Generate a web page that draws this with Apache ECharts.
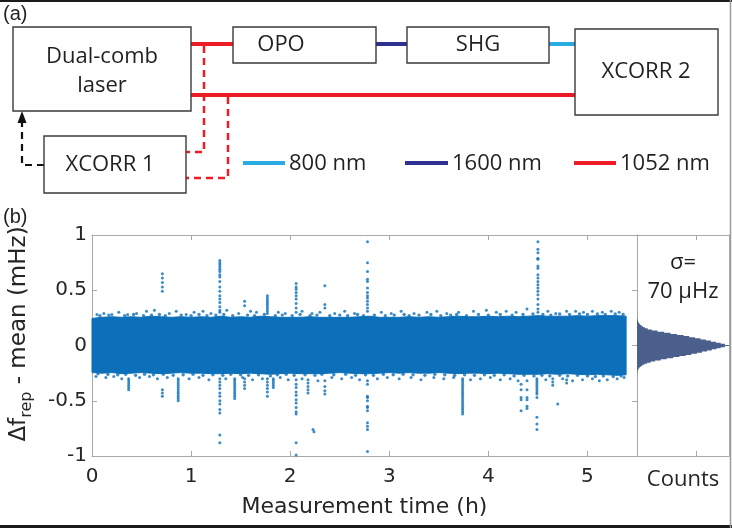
<!DOCTYPE html>
<html><head><meta charset="utf-8">
<script src="https://cdn.jsdelivr.net/npm/echarts@6/dist/echarts.min.js"></script>
<style>html,body{margin:0;padding:0;background:#fff}#c{width:732px;height:528px}</style>
</head><body><div id="c"></div>
<script>
// ---------- data ----------
const xTickLabels = ['0','1','2','3','4','5'];
const yTickLabels = ['-1','-0.5','0','0.5','1'];
// dense band envelope (mHz) vs measurement time (h)
const bandTime = [0,0.1,0.2,0.3,0.4,0.5,0.6,0.7,0.8,0.9,1.0,1.1,1.2,1.3,1.4,1.5,1.6,1.7,1.8,1.9,2.0,2.1,2.2,2.3,2.4,2.5,2.6,2.7,2.8,2.9,3.0,3.1,3.2,3.3,3.4,3.5,3.6,3.7,3.8,3.9,4.0,4.1,4.2,4.3,4.4,4.5,4.6,4.7,4.8,4.9,5.0,5.1,5.2,5.3,5.39];
const bandUpper = [0.245,0.255,0.26,0.255,0.26,0.255,0.265,0.26,0.255,0.26,0.255,0.26,0.255,0.265,0.255,0.26,0.255,0.265,0.26,0.255,0.255,0.255,0.26,0.255,0.255,0.255,0.255,0.26,0.265,0.255,0.255,0.255,0.26,0.255,0.26,0.255,0.26,0.265,0.26,0.26,0.265,0.26,0.265,0.26,0.265,0.27,0.265,0.265,0.265,0.27,0.265,0.27,0.27,0.27,0.265];
const bandLower = [-0.245,-0.25,-0.245,-0.255,-0.25,-0.245,-0.25,-0.255,-0.25,-0.245,-0.25,-0.25,-0.255,-0.255,-0.25,-0.255,-0.25,-0.255,-0.26,-0.255,-0.25,-0.255,-0.255,-0.255,-0.25,-0.245,-0.25,-0.255,-0.255,-0.25,-0.245,-0.25,-0.245,-0.25,-0.25,-0.245,-0.25,-0.255,-0.25,-0.25,-0.255,-0.25,-0.255,-0.26,-0.26,-0.26,-0.255,-0.26,-0.255,-0.26,-0.265,-0.26,-0.265,-0.27,-0.265];
// points hugging the band edges
const edgePoints = [[0.08,0.27],[0.17,0.275],[0.33,0.27],[0.42,0.28],[0.52,0.27],[0.6,0.275],[0.68,0.28],[0.74,0.27],[0.9,0.275],[1.0,0.27],[1.08,0.28],[1.16,0.27],[1.25,0.275],[1.33,0.28],[1.42,0.27],[1.57,0.275],[1.64,0.27],[1.74,0.28],[1.85,0.27],[1.92,0.275],[2.02,0.27],[2.1,0.28],[2.2,0.27],[2.27,0.275],[2.4,0.27],[2.5,0.275],[2.58,0.27],[2.68,0.28],[2.74,0.27],[2.85,0.275],[2.96,0.27],[3.05,0.275],[3.15,0.28],[3.2,0.27],[3.3,0.275],[3.42,0.28],[3.52,0.27],[3.62,0.275],[3.68,0.28],[3.78,0.27],[3.9,0.28],[4.0,0.275],[4.12,0.28],[4.24,0.275],[4.35,0.28],[4.45,0.285],[4.55,0.28],[4.63,0.275],[4.72,0.285],[4.82,0.28],[4.92,0.285],[5.0,0.28],[5.1,0.285],[5.18,0.28],[5.28,0.285],[5.36,0.28],
[0.06,-0.255],[0.16,-0.26],[0.26,-0.265],[0.34,-0.26],[0.44,-0.27],[0.53,-0.26],[0.62,-0.265],[0.72,-0.26],[0.82,-0.27],[0.92,-0.265],[1.02,-0.26],[1.12,-0.27],[1.22,-0.265],[1.32,-0.27],[1.4,-0.26],[1.5,-0.265],[1.58,-0.27],[1.68,-0.265],[1.8,-0.275],[1.87,-0.265],[1.96,-0.26],[2.04,-0.27],[2.15,-0.265],[2.25,-0.27],[2.32,-0.26],[2.44,-0.265],[2.56,-0.26],[2.66,-0.27],[2.76,-0.265],[2.84,-0.27],[2.94,-0.26],[3.04,-0.265],[3.14,-0.26],[3.24,-0.265],[3.36,-0.27],[3.46,-0.26],[3.56,-0.265],[3.66,-0.27],[3.76,-0.265],[3.86,-0.27],[3.96,-0.265],[4.06,-0.27],[4.16,-0.265],[4.26,-0.275],[4.36,-0.27],[4.46,-0.275],[4.54,-0.27],[4.62,-0.275],[4.72,-0.27],[4.8,-0.275],[4.9,-0.27],[5.0,-0.275],[5.08,-0.28],[5.16,-0.275],[5.26,-0.28],[5.34,-0.275]];
// sparse points just outside the band
const fringePoints = [[0.05,0.28],[0.12,0.29],[0.2,0.28],[0.27,0.3],[0.36,0.28],[0.45,0.29],[0.55,0.31],[0.63,0.32],[0.78,0.29],[0.85,0.31],[0.95,0.28],[1.03,0.3],[1.12,0.31],[1.2,0.29],[1.36,0.32],[1.48,0.29],[1.6,0.31],[1.66,0.3],[1.88,0.3],[1.95,0.29],[2.12,0.31],[2.22,0.29],[2.3,0.3],[2.45,0.29],[2.55,0.31],[2.65,0.29],[2.92,0.3],[3.02,0.29],[3.12,0.31],[3.25,0.29],[3.38,0.3],[3.48,0.31],[3.58,0.29],[3.7,0.3],[3.85,0.31],[3.98,0.32],[4.08,0.3],[4.18,0.31],[4.28,0.3],[4.6,0.31],[4.68,0.29],[4.88,0.31],[4.96,0.3],[5.05,0.31],[5.15,0.3],[5.24,0.31],[5.32,0.3],
[0.04,-0.28],[0.14,-0.29],[0.22,-0.28],[0.3,-0.3],[0.48,-0.29],[0.58,-0.28],[0.66,-0.3],[0.76,-0.29],[0.98,-0.3],[1.08,-0.29],[1.18,-0.31],[1.35,-0.3],[1.52,-0.29],[1.62,-0.31],[1.72,-0.3],[1.9,-0.29],[1.98,-0.31],[2.12,-0.3],[2.28,-0.32],[2.42,-0.29],[2.52,-0.3],[2.62,-0.29],[2.7,-0.31],[2.88,-0.3],[2.98,-0.29],[3.1,-0.3],[3.22,-0.29],[3.32,-0.31],[3.45,-0.29],[3.55,-0.3],[3.65,-0.29],[3.82,-0.31],[3.92,-0.3],[4.02,-0.29],[4.12,-0.31],[4.22,-0.3],[4.3,-0.32],[4.58,-0.31],[4.75,-0.3],[4.85,-0.32],[4.95,-0.31],[5.05,-0.3],[5.12,-0.32],[5.2,-0.31],[5.3,-0.3],[5.37,-0.29]];
// outlier excursions
const outlierPoints = [
[0.37,-0.3],[0.37,-0.32],[0.37,-0.34],[0.37,-0.36],[0.37,-0.38],[0.37,-0.4],
[0.71,0.65],[0.71,0.61],[0.71,0.57],[0.71,0.53],[0.71,0.49],[0.71,-0.4],[0.71,-0.43],[0.71,-0.46],
[0.87,-0.3],[0.87,-0.32],[0.87,-0.34],[0.87,-0.36],[0.87,-0.38],[0.87,-0.4],[0.87,-0.42],[0.87,-0.44],[0.87,-0.46],[0.87,-0.48],[0.87,-0.5],
[1.29,0.77],[1.29,0.75],[1.29,0.73],[1.29,0.71],[1.29,0.69],[1.29,0.67],[1.29,0.64],[1.29,0.62],[1.29,0.58],[1.29,0.53],[1.29,0.49],[1.29,0.45],[1.29,0.42],[1.29,0.39],[1.29,0.35],[1.29,0.32],[1.29,0.3],
[1.29,-0.3],[1.29,-0.33],[1.29,-0.36],[1.29,-0.39],[1.29,-0.43],[1.29,-0.46],[1.29,-0.5],[1.29,-0.53],[1.29,-0.58],[1.29,-0.61],[1.29,-0.81],[1.29,-0.88],
[1.44,-0.3],[1.44,-0.32],[1.44,-0.34],[1.44,-0.36],[1.44,-0.38],[1.44,-0.4],[1.44,-0.42],[1.44,-0.44],[1.44,-0.46],[1.44,-0.48],
[1.54,0.4],[1.54,0.36],[1.54,-0.3],[1.54,-0.33],[1.54,-0.36],[1.54,-0.39],
[1.77,0.29],[1.77,0.31],[1.77,0.33],[1.77,0.35],[1.77,0.37],[1.77,0.39],[1.77,0.41],[1.77,0.43],[1.77,0.45],
[1.77,-0.3],[1.77,-0.33],[1.77,-0.36],[1.77,-0.39],[1.77,-0.42],[1.77,-0.46],
[1.83,-0.3],[1.83,-0.32],[1.83,-0.34],[1.83,-0.36],[1.83,-0.38],
[2.06,0.56],[2.06,0.53],[2.06,0.51],[2.06,0.48],[2.06,0.45],[2.06,0.42],[2.06,0.38],[2.06,0.34],[2.06,0.3],
[2.06,-0.31],[2.06,-0.35],[2.06,-0.38],[2.06,-0.42],[2.06,-0.45],[2.06,-0.49],[2.06,-0.52],[2.06,-0.56],[2.06,-0.6],[2.06,-0.62],[2.06,-0.88],[2.06,-0.99],
[2.18,-0.31],[2.18,-0.34],[2.18,-0.37],[2.18,-0.4],[2.18,-0.43],
[2.23,-0.76],[2.24,-0.78],
[2.35,0.54],[2.35,0.37],[2.35,0.34],[2.35,-0.32],[2.35,-0.37],[2.35,-0.41],[2.35,-0.44],
[2.78,0.94],[2.78,0.75],[2.78,0.67],[2.78,0.6],[2.78,0.58],[2.78,0.52],[2.78,0.48],[2.78,0.45],[2.78,0.43],[2.78,0.4],[2.78,0.37],[2.78,0.34],[2.78,0.31],
[2.78,-0.32],[2.78,-0.35],[2.78,-0.46],[2.78,-0.47],[2.78,-0.5],[2.78,-0.55],[2.78,-0.56],[2.78,-0.59],[2.78,-0.7],[2.78,-0.73],[2.78,-0.76],[2.78,-0.96],
[3.74,-0.3],[3.74,-0.32],[3.74,-0.34],[3.74,-0.36],[3.74,-0.38],[3.74,-0.4],[3.74,-0.42],[3.74,-0.44],[3.74,-0.46],[3.74,-0.48],[3.74,-0.5],[3.74,-0.52],[3.74,-0.54],[3.74,-0.56],[3.74,-0.58],[3.74,-0.6],[3.74,-0.62],
[4.33,-0.35],[4.33,-0.4],[4.33,-0.47],[4.33,-0.49],[4.33,-0.59],
[4.39,0.33],[4.39,-0.32],[4.39,-0.4],[4.39,-0.47],[4.39,-0.49],[4.39,-0.55],[4.39,-0.57],
[4.49,-0.3],[4.49,-0.32],[4.49,-0.34],[4.49,-0.36],[4.49,-0.38],[4.49,-0.4],[4.49,-0.42],[4.49,-0.44],[4.49,-0.47],[4.49,-0.65],[4.49,-0.71],[4.49,-0.76],
[4.5,0.94],[4.5,0.87],[4.5,0.84],[4.5,0.79],[4.5,0.78],[4.5,0.72],[4.5,0.7],[4.5,0.64],[4.5,0.61],[4.5,0.58],[4.5,0.55],[4.5,0.52],[4.5,0.49],[4.5,0.46],[4.5,0.42],[4.5,0.37],[4.5,0.33],[4.5,0.3],
[4.65,-0.3],[4.65,-0.33],[4.65,-0.36],[4.7,-0.53],[4.79,0.31],[4.79,-0.31],[4.79,-0.34]
];
// histogram (bin centres in mHz, counts)
const histBins = [0.25,0.24,0.23,0.22,0.21,0.2,0.19,0.18,0.17,0.16,0.15,0.14,0.13,0.12,0.11,0.1,0.09,0.08,0.07,0.06,0.05,0.04,0.03,0.02,0.01,0,-0.01,-0.02,-0.03,-0.04,-0.05,-0.06,-0.07,-0.08,-0.09,-0.1,-0.11,-0.12,-0.13,-0.14,-0.15,-0.16,-0.17,-0.18,-0.19,-0.2,-0.21,-0.22,-0.23,-0.24,-0.25];
const histCounts = [60,110,200,330,500,750,1050,1500,2000,2700,3600,5000,6900,9100,11300,13500,15700,17600,19500,21400,23200,24900,26600,28200,29600,31000,29600,28200,26800,25200,23600,21900,20200,18300,16400,14300,12200,10000,8000,6100,4600,3400,2500,1800,1250,850,560,360,220,130,70];
const histBinWidth = 0.01;

// ---------- styles ----------
const blue = '#0b6fba';
const axisCol = '#a8a8a8';
const tickFont = {fontFamily:'DejaVu Sans', fontSize:20, color:'#262626'};
const diagFont = '22px "Open Sans"';
const red = '#ed1c24', navy = '#2e3192', sky = '#29abe2', ink = '#231f20';

function axisBase(extra){
  return Object.assign({
    type:'value',
    axisLine:{show:true, onZero:false, lineStyle:{color:axisCol, width:1}},
    axisTick:{show:true, inside:true, length:5, lineStyle:{color:axisCol}},
    splitLine:{show:false},
    axisLabel:{show:false}
  }, extra);
}

const chart = echarts.init(document.getElementById('c'), null, {renderer:'canvas'});

function T(text, x, y, font, align){
  return {type:'text', x:x, y:y, z:10, style:{text:text, font:font, fill:ink, align:align||'center', verticalAlign:'middle', textAlign:align||'center', textVerticalAlign:'middle'}};
}
function box(x,y,w,h){ return {type:'rect', shape:{x:x,y:y,width:w,height:h}, style:{fill:'#fff', stroke:'#3a3a3a', lineWidth:1.4}, z:5}; }
function seg(pts, color, w, dash){ return {type:'polyline', shape:{points:pts}, style:{stroke:color, lineWidth:w, fill:null, lineDash:dash||null}, z:4}; }

const graphics = [
  // frame
  {type:'line', shape:{x1:0,y1:1,x2:732,y2:1}, style:{stroke:'#1a1a1a', lineWidth:2}},
  {type:'line', shape:{x1:0,y1:526.5,x2:732,y2:526.5}, style:{stroke:'#1a1a1a', lineWidth:3}},
  {type:'line', shape:{x1:730.5,y1:0,x2:730.5,y2:528}, style:{stroke:'#9a9a9a', lineWidth:1.5}},
  // panel labels
  T('(a)', 3, 14, '20px "Liberation Sans"', 'left'),
  T('(b)', 3, 217, '20px "Liberation Sans"', 'left'),
  // beams
  seg([[191,44],[233,44]], red, 4),
  seg([[376,44],[407,44]], navy, 4),
  seg([[549,44],[575,44]], sky, 4),
  seg([[191,95],[575,95]], red, 4),
  seg([[204,46],[204,152],[186,152]], red, 2.5, [7,5]),
  seg([[228,97],[228,178],[186,178]], red, 2.5, [7,5]),
  seg([[44,165],[22,165],[22,122]], '#111', 2.2, [7,5]),
  {type:'polygon', shape:{points:[[22,111],[17.5,123],[26.5,123]]}, style:{fill:'#111'}, z:6},
  // boxes
  box(13,27,178,84), box(233,27,143,36), box(407,27,142,36), box(575,29,143,86), box(44,136,142,57),
  T('Dual-comb', 102, 57, diagFont), T('laser', 102, 86, diagFont),
  T('OPO', 281, 45, diagFont), T('SHG', 478, 45, diagFont),
  T('XCORR 2', 646, 72, diagFont), T('XCORR 1', 110, 165, diagFont),
  // legend
  seg([[243,163],[285,163]], sky, 4), T('800 nm', 289, 164, diagFont, 'left'),
  seg([[405,163],[448,163]], navy, 4), T('1600 nm', 452, 164, diagFont, 'left'),
  seg([[574,163],[616,163]], red, 4), T('1052 nm', 620, 164, diagFont, 'left'),
  // sigma annotation
  T('σ=', 683, 263, '22px "Open Sans"'),
  T('70 μHz', 683, 292, '22px "Open Sans"'),
  // y axis title
  {type:'text', x:19, y:334, rotation:Math.PI/2, z:10, style:{
    text:'{m|Δf}{s|rep}{m| - mean (mHz)}', align:'center', verticalAlign:'middle', textAlign:'center', textVerticalAlign:'middle', fill:'#262626',
    rich:{ m:{fontFamily:'DejaVu Sans', fontSize:23, lineHeight:32, verticalAlign:'middle', fill:'#262626', color:'#262626'},
           s:{fontFamily:'DejaVu Sans', fontSize:16, lineHeight:16, verticalAlign:'bottom', fill:'#262626', color:'#262626'} }
  }}
];

const option = {
  animation:false,
  backgroundColor:'#fff',
  grid:[
    {left:92, top:235, width:545, height:221},
    {left:637, top:235, width:92, height:221}
  ],
  xAxis:[
    axisBase({gridIndex:0, min:0, max:5.5, interval:1, position:'bottom',
      axisLabel:Object.assign({show:true, margin:11, showMaxLabel:false, formatter:(v)=>xTickLabels[Math.round(v)]||''}, tickFont),
      name:'Measurement time (h)', nameLocation:'middle', nameGap:40,
      nameTextStyle:{fontFamily:'DejaVu Sans', fontSize:22, color:'#262626'}}),
    axisBase({gridIndex:0, min:0, max:5.5, interval:1, position:'top'}),
    axisBase({gridIndex:1, min:0, max:31000, interval:20000, position:'bottom',
      name:'Counts', nameLocation:'middle', nameGap:13,
      nameTextStyle:{fontFamily:'Open Sans', fontSize:22, color:'#262626', verticalAlign:'top'}}),
    axisBase({gridIndex:1, min:0, max:31000, interval:20000, position:'top'})
  ],
  yAxis:[
    axisBase({gridIndex:0, min:-1, max:1, interval:0.5, position:'left',
      axisLabel:Object.assign({show:true, margin:5, formatter:(v)=>yTickLabels[Math.round((v+1)*2)]}, tickFont)}),
    axisBase({gridIndex:0, min:-1, max:1, interval:0.5, position:'right'}),
    axisBase({gridIndex:1, min:-1, max:1, interval:0.5, position:'left', axisTick:{show:false}}),
    axisBase({gridIndex:1, min:-1, max:1, interval:0.5, position:'right', axisTick:{show:false}})
  ],
  graphic:{elements:graphics},
  series:[
    {
      type:'custom', xAxisIndex:0, yAxisIndex:0, z:2,
      data: bandTime.map((t,i)=>[t, bandUpper[i], bandLower[i]]),
      renderItem:function(params, api){
        if (params.dataIndex !== 0) return null;
        const pts = [];
        for (let i=0;i<bandTime.length;i++) pts.push(api.coord([bandTime[i], bandUpper[i]]));
        for (let i=bandTime.length-1;i>=0;i--) pts.push(api.coord([bandTime[i], bandLower[i]]));
        return {type:'polygon', shape:{points:pts}, style:{fill:blue, stroke:blue, lineWidth:1}};
      }
    },
    {type:'scatter', xAxisIndex:0, yAxisIndex:0, z:3, symbol:'circle', symbolSize:3.4, itemStyle:{color:blue}, data:edgePoints},
    {type:'scatter', xAxisIndex:0, yAxisIndex:0, z:3, symbol:'circle', symbolSize:3, itemStyle:{color:blue}, data:fringePoints},
    {type:'scatter', xAxisIndex:0, yAxisIndex:0, z:3, symbol:'circle', symbolSize:3, itemStyle:{color:blue}, data:outlierPoints},
    {
      // histogram drawn as one stepped outline through the count / mHz scales
      type:'custom', xAxisIndex:2, yAxisIndex:2, z:2,
      data: histBins.map((b,i)=>[histCounts[i], b]),
      renderItem:function(params, api){
        if (params.dataIndex !== 0) return null;
        const h = histBinWidth/2;
        const pts = [api.coord([0, histBins[0]+h])];
        for (let i=0;i<histBins.length;i++){
          pts.push(api.coord([histCounts[i], histBins[i]+h]));
          pts.push(api.coord([histCounts[i], histBins[i]-h]));
        }
        pts.push(api.coord([0, histBins[histBins.length-1]-h]));
        return {type:'polygon', shape:{points:pts}, style:{fill:'#4a5f8c'}};
      }
    }
  ]
};
chart.setOption(option);
</script>
</body></html>
